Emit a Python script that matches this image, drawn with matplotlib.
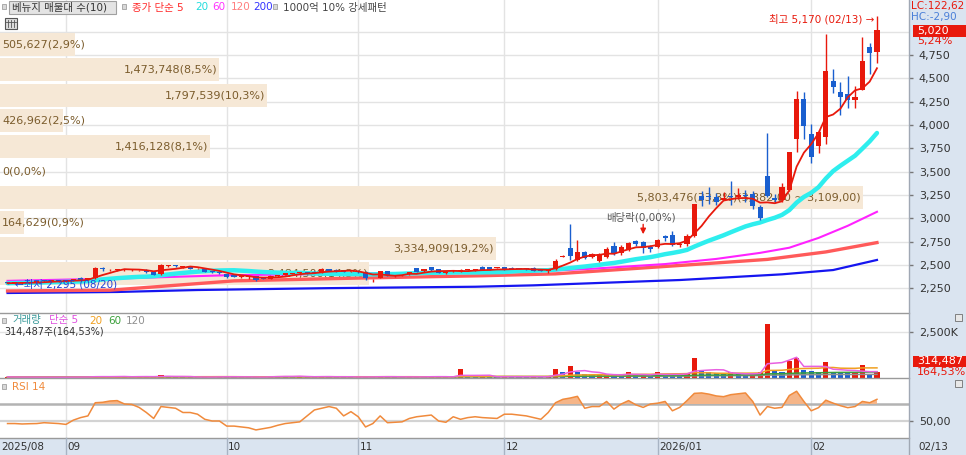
import numpy as np
import pandas as pd
import matplotlib
matplotlib.use("Agg")
import matplotlib.pyplot as plt
from matplotlib.patches import Rectangle
from matplotlib.lines import Line2D

plt.rcParams['font.family'] = ['DejaVu Sans', 'Noto Sans CJK KR']

# ---------------- data ----------------
opens = [2310, 2305, 2308, 2312, 2318, 2335, 2325, 2332, 2328, 2335,
         2362, 2340, 2364, 2462, 2452, 2445, 2448, 2446, 2444, 2448,
         2425, 2400, 2490, 2500, 2476, 2476, 2464, 2456, 2436, 2426,
         2405, 2390, 2370, 2372, 2380, 2362, 2355, 2378, 2395, 2404,
         2413, 2426, 2428, 2420, 2456, 2450, 2445, 2432, 2440, 2428,
         2345, 2364, 2435, 2385, 2388, 2400, 2464, 2435, 2475, 2455,
         2412, 2440, 2440, 2445, 2445, 2480, 2478, 2465, 2475, 2470,
         2468, 2465, 2470, 2455, 2440, 2457, 2590, 2686, 2554, 2640,
         2590, 2543, 2590, 2707, 2625, 2661, 2757, 2750, 2696, 2696,
         2811, 2822, 2710, 2725, 2810, 3240, 3240, 3230, 3200, 3240,
         3230, 3250, 3260, 3125, 3450, 3215, 3196, 3304, 3847, 4282,
         3900, 3775, 3875, 4471, 4357, 4329, 4268, 4375, 4832, 4780]
highs = [2318, 2312, 2315, 2322, 2325, 2340, 2335, 2338, 2340, 2350,
         2368, 2365, 2478, 2482, 2456, 2458, 2452, 2452, 2450, 2455,
         2432, 2510, 2495, 2505, 2480, 2480, 2470, 2460, 2440, 2430,
         2410, 2395, 2385, 2377, 2384, 2368, 2385, 2398, 2415, 2408,
         2420, 2430, 2432, 2466, 2462, 2455, 2448, 2436, 2445, 2432,
         2350, 2440, 2440, 2392, 2395, 2425, 2470, 2460, 2480, 2460,
         2432, 2445, 2455, 2448, 2448, 2485, 2482, 2470, 2480, 2475,
         2472, 2470, 2475, 2460, 2450, 2560, 2605, 2940, 2768, 2650,
         2625, 2630, 2690, 2750, 2710, 2745, 2770, 2760, 2710, 2780,
         2820, 2860, 2740, 2830, 3150, 3293, 3339, 3270, 3280, 3400,
         3330, 3300, 3290, 3140, 3910, 3260, 3380, 3714, 4368, 4357,
         4011, 3950, 4980, 4596, 4464, 4525, 4418, 4940, 4882, 5170]
lows = [2295, 2298, 2300, 2305, 2310, 2318, 2320, 2322, 2320, 2330,
        2330, 2335, 2355, 2440, 2440, 2440, 2438, 2436, 2435, 2415,
        2390, 2395, 2478, 2480, 2465, 2458, 2455, 2420, 2415, 2405,
        2365, 2370, 2362, 2350, 2330, 2348, 2350, 2372, 2390, 2395,
        2405, 2408, 2412, 2415, 2436, 2430, 2425, 2420, 2415, 2340,
        2320, 2358, 2385, 2370, 2378, 2395, 2425, 2430, 2440, 2410,
        2405, 2430, 2425, 2435, 2432, 2445, 2445, 2455, 2442, 2455,
        2452, 2450, 2435, 2435, 2410, 2450, 2585, 2550, 2540, 2560,
        2580, 2530, 2580, 2610, 2610, 2650, 2700, 2630, 2640, 2680,
        2760, 2700, 2690, 2700, 2800, 3130, 3150, 3140, 3195, 3140,
        3210, 3180, 3100, 2980, 3230, 3160, 3180, 3290, 3714, 3850,
        3596, 3700, 3796, 4346, 4107, 4179, 4179, 4370, 4546, 4661]
closes = [2305, 2308, 2310, 2315, 2320, 2325, 2330, 2328, 2332, 2345,
          2338, 2360, 2464, 2456, 2454, 2452, 2450, 2449, 2448, 2420,
          2396, 2500, 2492, 2486, 2478, 2462, 2466, 2425, 2420, 2410,
          2370, 2375, 2378, 2375, 2340, 2355, 2380, 2395, 2410, 2406,
          2416, 2412, 2418, 2460, 2440, 2435, 2430, 2434, 2420, 2360,
          2348, 2435, 2390, 2390, 2392, 2422, 2430, 2455, 2448, 2415,
          2428, 2442, 2441, 2447, 2446, 2450, 2450, 2467, 2450, 2460,
          2458, 2455, 2440, 2440, 2445, 2543, 2600, 2600, 2636, 2572,
          2615, 2618, 2671, 2625, 2696, 2732, 2722, 2686, 2670, 2768,
          2786, 2714, 2730, 2810, 3150, 3192, 3225, 3170, 3215, 3225,
          3245, 3235, 3130, 3005, 3240, 3200, 3339, 3714, 4275, 3989,
          3660, 3925, 4578, 4410, 4303, 4268, 4297, 4686, 4770, 5020]
volumes = [60000, 45000, 40000, 50000, 38000, 55000, 42000, 35000, 48000, 52000,
           70000, 60000, 120000, 65000, 45000, 90000, 85000, 50000, 95000, 60000,
           70000, 150000, 80000, 60000, 55000, 45000, 40000, 60000, 50000, 95000,
           70000, 50000, 45000, 40000, 60000, 45000, 120000, 110000, 90000, 60000,
           95000, 50000, 45000, 115000, 70000, 55000, 50000, 40000, 55000, 80000,
           60000, 100000, 60000, 45000, 40000, 55000, 90000, 60000, 95000, 60000,
           50000, 45000, 470000, 80000, 60000, 70000, 65000, 55000, 90000, 70000,
           65000, 60000, 80000, 60000, 75000, 486000, 340000, 650000, 320000, 200000,
           150000, 180000, 200000, 180000, 150000, 300000, 150000, 160000, 120000, 320000,
           200000, 180000, 150000, 250000, 1060000, 380000, 300000, 250000, 200000, 300000,
           200000, 180000, 250000, 300000, 2920000, 360000, 330000, 920000, 1060000, 430000,
           400000, 330000, 880000, 330000, 300000, 250000, 270000, 700000, 191143, 314487]
rsi14 = [47, 47, 46.5, 46.8, 47, 48, 47.5, 47, 46, 51,
         54, 56, 71.5, 72, 73.5, 74, 70, 69.5, 66, 60,
         53, 67, 66, 65, 60, 60, 58, 52, 50, 50,
         44, 44, 43, 42, 39.5, 41, 42.5, 45, 47, 48,
         49, 56, 63, 65, 67, 65, 56, 61, 55, 43,
         47, 56, 48, 48.5, 49, 53, 55, 56, 57, 50,
         48.5, 55, 52, 54, 55, 54, 53.5, 53, 58, 58,
         57, 56, 54, 52, 60, 71.5, 75.5, 77, 79, 65,
         67, 67, 73, 64, 70, 74, 69, 66, 70, 71,
         73, 62, 66, 74, 82.5, 83, 81.6, 79.5, 78.6, 81,
         82, 83, 73, 57, 67, 65, 66, 80, 85, 73,
         62, 65.7, 74.5, 71, 68, 65.7, 67, 73, 71.5, 75.5]

# long moving averages (candle index, value)
ma60_idx = [0, 15, 30, 45, 60, 72, 80, 90, 97, 103, 107, 111, 115, 119]
ma60_val = [2330, 2355, 2390, 2405, 2418, 2430, 2460, 2510, 2565, 2630, 2685, 2790, 2920, 3070]
ma120_idx = [0, 14, 20, 31, 48, 65, 75, 92, 104, 112, 119]
ma120_val = [2222, 2230, 2265, 2330, 2360, 2385, 2405, 2495, 2560, 2640, 2740]
ma200_idx = [0, 15, 26, 44, 64, 72, 92, 106, 113, 119]
ma200_val = [2200, 2211, 2232, 2252, 2267, 2282, 2339, 2400, 2446, 2554]

# volume profile (bottom band -> top band)
band_volumes = [2484506, 3334909, 164629, 5803476, 0, 1416128, 426962, 1797539, 1473748, 505627]
band_low = 2258
band_step = 273
max_band_range = "(3,382,00 ~ 3,109,00)"

month_idx = [0, 8, 30, 48, 68, 89, 110]
month_labels = ['2025/08', '09', '10', '11', '12', '2026/01', '02']
last_label = '02/13'
price_ticks = [2250, 2500, 2750, 3000, 3250, 3500, 3750, 4000, 4250, 4500, 4750]

# ---------------- layout ----------------
W, H = 966, 455
fig = plt.figure(figsize=(W / 100, H / 100), dpi=100)
fig.patch.set_facecolor('white')


def fx(x):
    return x / W


def fy(y):
    return 1 - y / H


def ftext(x, y, s, color='#333333', size=7.5, ha='left', va='center', **kw):
    return fig.text(fx(x), fy(y), s, color=color, fontsize=size, ha=ha, va=va, zorder=8, **kw)


def frect(x0, y0, x1, y1, fc, ec='none', lw=0.8, z=6):
    r = Rectangle((fx(x0), fy(y1)), fx(x1) - fx(x0), fy(y0) - fy(y1), transform=fig.transFigure,
                  facecolor=fc, edgecolor=ec, lw=lw, zorder=z)
    fig.add_artist(r)


def fline(x0, y0, x1, y1, c='#9a9a9a', lw=1.0, z=7):
    fig.add_artist(Line2D([fx(x0), fx(x1)], [fy(y0), fy(y1)], transform=fig.transFigure,
                          color=c, lw=lw, zorder=z))


PR = 909
X0, DX = 7.55, 7.306
n = len(closes)
idx = np.arange(n)
xmin = -X0 / DX
xmax = (PR - X0) / DX
PPU = 23.333 / 250.0  # pixels per price unit

STRIP = '#dae4f0'
frect(PR, 0, W, H, STRIP, z=-10)
frect(0, 438, W, H, STRIP, z=-10)

ax_p = fig.add_axes([0, fy(312), fx(PR), 312 / H])
ax_v = fig.add_axes([0, fy(378), fx(PR), 65 / H])
ax_r = fig.add_axes([0, fy(438), fx(PR), 60 / H])

ax_p.set_ylim(4750 - (312 - 55) / PPU, 4750 + 55 / PPU)
ax_v.set_ylim(0, 2.5e6 * 65 / 46.3)
ax_r.set_ylim(50 - 17 / 0.85, 50 + 43 / 0.85)

GRID = '#e3e3e3'
for ax in (ax_p, ax_v, ax_r):
    ax.set_xlim(xmin, xmax)
    ax.set_facecolor('white')
    for s in ax.spines.values():
        s.set_visible(False)
    ax.tick_params(axis='x', bottom=False, labelbottom=False)
    ax.yaxis.tick_right()
    ax.tick_params(axis='y', which='both', direction='out', length=3, width=1, color='#777777',
                   pad=4, labelsize=8, labelcolor='#333333')
    for m in month_idx[1:]:
        ax.axvline(m, color=GRID, lw=1, zorder=0.5)

# price panel grid
for t in price_ticks + [5000]:
    ax_p.axhline(t, color=GRID, lw=1, zorder=0.5)
ax_p.set_yticks(price_ticks)
ax_p.set_yticklabels([f"{t:,}" for t in price_ticks])

UP, DN = '#e8190c', '#1a5fcf'

# volume profile bands
bv = np.array(band_volumes, dtype=float)
edges = band_low + band_step * np.arange(len(bv))
gap = 27
bw = bv / bv.max() * 0.949 * (xmax - xmin)
ax_p.barh(edges + gap + (band_step - gap) / 2, bw, height=band_step - gap, left=xmin,
          color='#f6e8d6', linewidth=0, zorder=1)
total = bv.sum()
renderer = fig.canvas.get_renderer()
for k in range(len(bv)):
    v = int(bv[k])
    s = f"{v:,}({v / total * 100:.1f}%)".replace('.', ',')
    if v == bv.max():
        s += max_band_range
    yc = edges[k] + gap + (band_step - gap) / 2
    t = ax_p.text(xmin + 2 / DX, yc, s, color='#7b5c2c', fontsize=8, ha='left', va='center', zorder=2)
    tw = t.get_window_extent(renderer).width
    if tw + 6 < bw[k] * DX:
        t.set_x(xmin + bw[k] - 2 / DX)
        t.set_ha('right')

# moving averages
cs = pd.Series(closes, dtype=float)
ma5 = cs.rolling(5, min_periods=1).mean()
ma20 = cs.rolling(20, min_periods=1).mean()
ax_p.plot(ma200_idx, ma200_val, color='#1515f0', lw=1.6, zorder=3)
ax_p.plot(ma120_idx, ma120_val, color='#ff5a5a', lw=2.4, zorder=3)
ax_p.plot(ma60_idx, ma60_val, color='#ff22ff', lw=1.5, zorder=3)
ax_p.plot(idx, ma20, color='#2eeeee', lw=3.2, zorder=3, solid_capstyle='round')

# candles
o = np.array(opens, float); h = np.array(highs, float)
l = np.array(lows, float); c = np.array(closes, float)
ccol = [UP if c[i] >= o[i] else DN for i in range(n)]
ax_p.vlines(idx, l, h, colors=ccol, lw=1, zorder=4)
ax_p.bar(idx, np.maximum(np.abs(c - o), 9), bottom=np.minimum(o, c), width=0.7,
         color=ccol, linewidth=0, zorder=4)
ax_p.plot(idx, ma5, color='#e8190c', lw=1.3, zorder=5)

# annotations on price panel
ihi = int(np.argmax(h)); ilo = int(np.argmin(l))
ax_p.annotate(f"최고 {int(h[ihi]):,} (02/13) →", xy=(ihi, h[ihi]), xytext=(-3, -3),
              textcoords='offset pixels', ha='right', va='center', color=UP, fontsize=7.5, zorder=7)
ax_p.annotate(f"←최저 {int(l[ilo]):,} (08/20)", xy=(ilo, l[ilo]), xytext=(7, 0),
              textcoords='offset pixels', ha='left', va='center', color='#2343d6', fontsize=7.5, zorder=7)
ax_p.annotate('', xy=(87, 2800), xytext=(87, 2965),
              arrowprops=dict(arrowstyle='-|>', color=UP, lw=1.0, mutation_scale=8), zorder=7)
ax_p.text(86.7, 3008, '배당락(0,00%)', ha='center', va='center', color='#555555', fontsize=7.5, zorder=7)

# volume panel
vol = np.array(volumes, float)
vcol = [UP if i == 0 or vol[i] >= vol[i - 1] else DN for i in range(n)]
ax_v.axhline(2.5e6, color=GRID, lw=1, zorder=0.5)
ax_v.bar(idx, vol, width=0.7, color=vcol, linewidth=0, zorder=2)
vs = pd.Series(vol)
for w, col in [(120, '#909090'), (60, '#3aa03a'), (20, '#f0a020'), (5, '#e860e0')]:
    ax_v.plot(idx, vs.rolling(w, min_periods=1).mean(), color=col, lw=1.1, zorder=3)
ax_v.set_yticks([2.5e6])
ax_v.set_yticklabels(['2,500K'])

# RSI panel
r = np.array(rsi14, float)
ax_r.axhline(70, color='#b3b3b3', lw=1.8, zorder=1)
ax_r.axhline(50, color='#d3d3d3', lw=1.6, zorder=1)
ax_r.fill_between(idx, r, 70, where=r > 70, interpolate=True, color='#f5b588', lw=0, zorder=2)
ax_r.plot(idx, r, color='#f08a3c', lw=1.1, zorder=3)
ax_r.set_yticks([50])
ax_r.set_yticklabels(['50,00'])

# panel separators
fline(0, 312.5, PR, 312.5)
fline(0, 378, PR, 378)
fline(0, 438, PR, 438)
fline(PR, 0, PR, H, c='#a0a8b4')

# x axis labels
for m, lab in zip(month_idx, month_labels):
    xp = X0 + DX * m if m > 0 else 0
    if m > 0:
        fline(xp, 438, xp, H, c='#a8b4c4', lw=1)
    ftext(xp + 1.5, 447, lab, color='#333333', size=7.5)
ftext(918, 447, last_label, color='#333333', size=7.5)

# top legend
frect(2, 4, 6, 9, '#d8d8d8', ec='#a0a0a0', lw=0.6)
frect(8.5, 1, 116, 14, '#e4e4e4', ec='#a0a0a0', lw=0.8)
ftext(12, 7.5, '베뉴지 매물대 수(10)', color='#333333', size=7.5)
frect(122, 4, 126, 9, '#d8d8d8', ec='#a0a0a0', lw=0.6)
ftext(132, 7.5, '종가 단순 5', color='#ff2a2a')
ftext(195, 7.5, '20', color='#22dddd')
ftext(212, 7.5, '60', color='#ff33ff')
ftext(231, 7.5, '120', color='#ff7f7f')
ftext(253, 7.5, '200', color='#3333ff')
frect(273, 4, 277, 9, '#d8d8d8', ec='#a0a0a0', lw=0.6)
ftext(283, 7.5, '1000억 10% 강세패턴', color='#444444')
frect(5, 18, 17, 29, '#dcdcdc', ec='#555555', lw=0.8)
for xx in (8, 11, 14):
    fline(xx, 20, xx, 27, c='#555555', lw=0.6)
fline(6, 22, 16, 22, c='#555555', lw=0.6)

# right axis annotations
ftext(911, 6.5, 'LC:122,62', color=UP, size=7.5)
ftext(911, 17, 'HC:-2,90', color='#4a7fd8', size=7.5)
frect(913, 25, W, 37, UP)
ftext(917, 31, f"{int(c[-1]):,}", color='white', size=8)
ftext(917, 41, f"{(c[-1] / c[-2] - 1) * 100:.2f}%".replace('.', ','), color=UP, size=8)

# volume legend
frect(2, 318, 6, 323, '#d8d8d8', ec='#a0a0a0', lw=0.6)
ftext(12, 320.5, '거래량', color='#3a9a9a', size=7.5)
ftext(49, 320.5, '단순 5', color='#e050e0', size=7.5)
ftext(89, 320.5, '20', color='#f0a020', size=7.5)
ftext(108, 320.5, '60', color='#3aa03a', size=7.5)
ftext(126, 320.5, '120', color='#909090', size=7.5)
ratio = vol[-1] / vol[-2] * 100
ftext(4, 332, f"{int(vol[-1]):,}주({ratio:.2f}%)".replace('.', ','), color='#333333', size=7)
frect(913, 356, W, 366.5, UP)
ftext(917, 361, f"{int(vol[-1]):,}", color='white', size=8)
ftext(917, 372, f"{ratio:.2f}%".replace('.', ','), color=UP, size=8)
frect(955, 314, 962, 321, '#e8e8e8', ec='#707070', lw=0.6)

# RSI legend
frect(2, 384, 6, 389, '#d8d8d8', ec='#a0a0a0', lw=0.6)
ftext(12, 386.5, 'RSI 14', color='#f08a3c', size=7.5)
frect(955, 380, 962, 387, '#e8e8e8', ec='#707070', lw=0.6)

fig.savefig('out.png', dpi=100, facecolor='white')
